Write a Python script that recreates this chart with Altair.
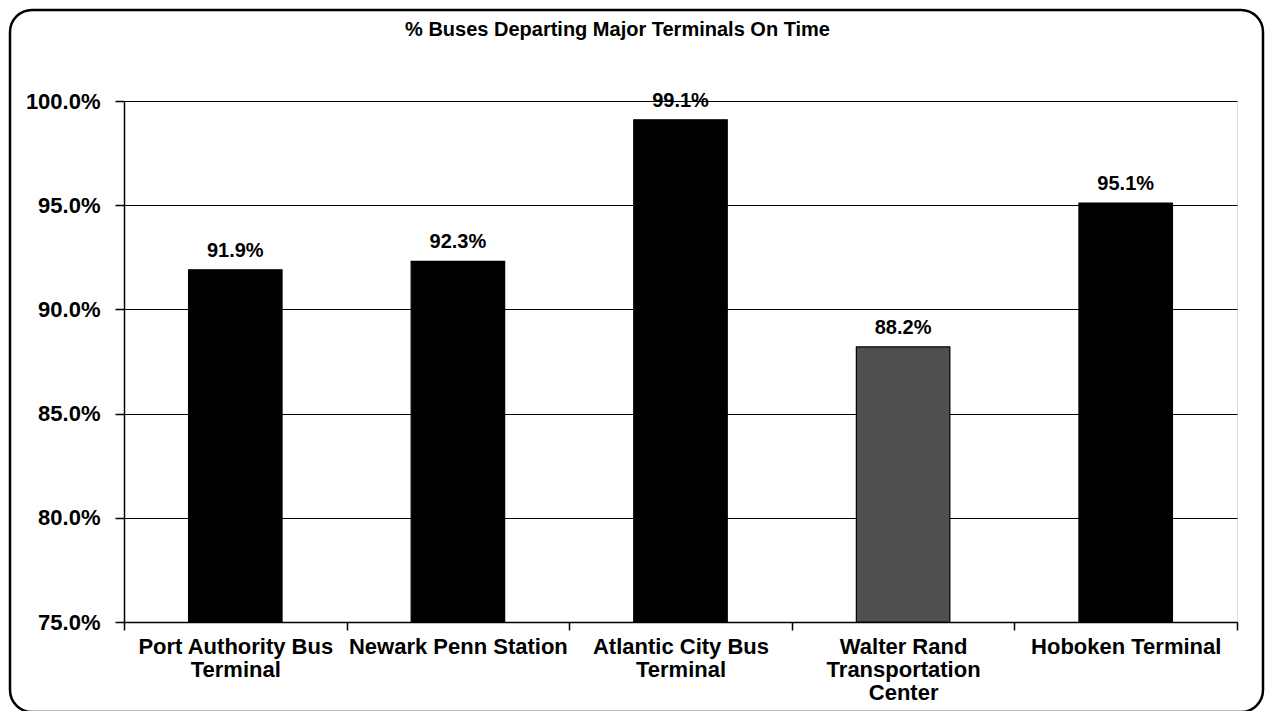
import altair as alt
import pandas as pd

terminals = [
    "Port Authority Bus|Terminal",
    "Newark Penn Station",
    "Atlantic City Bus|Terminal",
    "Walter Rand|Transportation|Center",
    "Hoboken Terminal",
]
on_time = [91.9, 92.3, 99.1, 88.2, 95.1]
y_ticks = [75, 80, 85, 90, 95, 100]

df = pd.DataFrame({"terminal": terminals, "pct": on_time})
df["label"] = [f"{v:.1f}%" for v in on_time]

FONT = "Liberation Sans"

x_enc = alt.X(
    "terminal:N",
    sort=terminals,
    scale=alt.Scale(paddingInner=0, paddingOuter=0),
    axis=alt.Axis(
        title=None,
        labelAngle=0,
        labelExpr="split(datum.label, '|')",
        labelFont=FONT,
        labelFontSize=22,
        labelFontWeight="bold",
        labelColor="black",
        labelLineHeight=23,
        labelPadding=6,
        labelLimit=400,
        tickBand="extent",
        ticks=True,
        tickSize=8,
        tickColor="black",
        tickWidth=1.5,
        domainColor="black",
        domainWidth=1.5,
        grid=False,
    ),
)

y_scale = alt.Scale(domain=[75, 100], nice=False, zero=False)

bars = alt.Chart(df).mark_bar(
    width=alt.RelativeBandSize(0.42), stroke="black", strokeWidth=1.2
).encode(
    x=x_enc,
    y=alt.Y(
        "pct:Q",
        scale=y_scale,
        axis=alt.Axis(
            title=None,
            values=y_ticks,
            labelExpr="format(datum.value, '.1f') + '%'",
            labelFont=FONT,
            labelFontSize=22,
            labelFontWeight="bold",
            labelColor="black",
            labelPadding=15,
            tickSize=9,
            tickColor="black",
            tickWidth=1.5,
            domainColor="black",
            domainWidth=1.5,
            grid=True,
            gridColor="black",
            gridWidth=1,
            gridOpacity=1,
        ),
    ),
    y2=alt.datum(75),
    color=alt.condition(
        alt.datum.terminal == "Walter Rand|Transportation|Center",
        alt.value("#4f4f4f"),
        alt.value("black"),
    ),
)

labels = alt.Chart(df).mark_text(
    font=FONT, fontSize=20, fontWeight="bold", color="black", baseline="bottom", dy=-9
).encode(
    x=alt.X("terminal:N", sort=terminals),
    y=alt.Y("pct:Q", scale=y_scale),
    text="label:N",
)

border = alt.Chart(pd.DataFrame({"a": [0]})).mark_rect(
    fill=None, stroke="black", strokeWidth=2.5, cornerRadius=22
).encode(
    x=alt.value(-114), x2=alt.value(1139), y=alt.value(-91), y2=alt.value(611)
)

chart = alt.layer(border, bars, labels).properties(
    width=1113,
    height=521,
    autosize=alt.AutoSizeParams(type="none"),
    padding={"left": 116, "top": 93, "right": 28, "bottom": 89},
    title=alt.TitleParams(
        "% Buses Departing Major Terminals On Time",
        font=FONT,
        fontSize=20,
        fontWeight="bold",
        color="black",
        anchor="middle",
        frame="group",
        offset=-31,
        dx=-63,
    ),
).configure_view(stroke="black", strokeWidth=1.5).configure(background="white")

chart.save("out.html", embed_options={"renderer": "svg", "actions": False})
